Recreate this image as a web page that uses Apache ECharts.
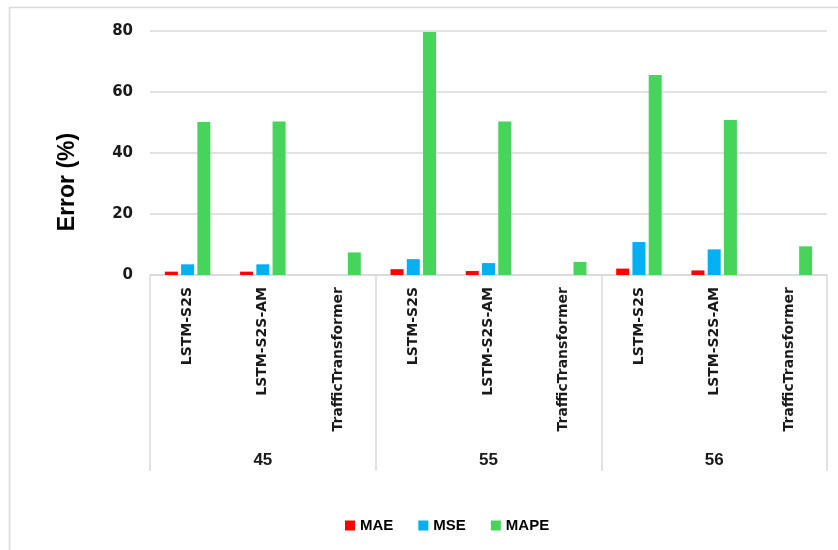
<!DOCTYPE html>
<html>
<head>
<meta charset="utf-8">
<script src="https://cdn.jsdelivr.net/npm/echarts@6/dist/echarts.min.js"></script>
<style>
  html, body { margin: 0; padding: 0; background: #fff; }
  #chart { width: 838px; height: 550px; }
</style>
</head>
<body>
<div id="chart"></div>
<script>
// 数据
var models = ['LSTM-S2S', 'LSTM-S2S-AM', 'TrafficTransformer',
              'LSTM-S2S', 'LSTM-S2S-AM', 'TrafficTransformer',
              'LSTM-S2S', 'LSTM-S2S-AM', 'TrafficTransformer'];
var datasets = ['45', '55', '56'];
var mae  = [1.1, 1.1, 0, 1.9, 1.3, 0, 2.1, 1.5, 0];
var mse  = [3.5, 3.5, 0, 5.2, 3.9, 0, 10.8, 8.4, 0];
var mape = [50.2, 50.3, 7.4, 79.7, 50.3, 4.3, 65.6, 50.8, 9.4];
var yTicks = [0, 20, 40, 60, 80];

var font = 'Liberation Sans';
var wide = 'DejaVu Sans';
var gridColor = '#d9d9d9';

function bar(name, data, color) {
    return {
        name: name,
        type: 'bar',
        data: data,
        barWidth: 13,
        barGap: '25%',
        itemStyle: { color: color }
    };
}

var chart = echarts.init(document.getElementById('chart'));
chart.setOption({
    animation: false,
    grid: { left: 150, right: 11, top: 31, bottom: 275 },
    graphic: [
        {
            type: 'rect',
            shape: { x: 9.5, y: 7.5, width: 840, height: 560 },
            style: { fill: 'none', stroke: gridColor, lineWidth: 1.5 }
        },
        {
            type: 'text',
            x: 68, y: 182,
            rotation: Math.PI / 2,
            style: {
                text: 'Error (%)',
                font: 'bold 23px "' + font + '"',
                fill: '#000',
                align: 'center',
                verticalAlign: 'middle'
            }
        }
    ],
    legend: {
        bottom: 12,
        left: 340,
        icon: 'rect',
        itemWidth: 10,
        itemHeight: 10,
        itemGap: 25,
        textStyle: { fontFamily: font, fontWeight: 'bold', fontSize: 15, color: '#000' },
        data: ['MAE', 'MSE', 'MAPE']
    },
    xAxis: [
        {
            type: 'category',
            data: models,
            axisLine: { lineStyle: { color: gridColor, width: 1.5 } },
            axisTick: { show: false },
            axisLabel: {
                interval: 0,
                rotate: 90,
                margin: 12,
                fontFamily: wide,
                fontWeight: 'bold',
                fontSize: 14,
                color: '#1a1a1a'
            }
        },
        {
            type: 'category',
            data: datasets,
            position: 'bottom',
            offset: 196,
            axisLine: { show: false },
            axisTick: {
                show: true,
                inside: true,
                length: 196,
                interval: 0,
                lineStyle: { color: gridColor, width: 1.5 }
            },
            axisLabel: {
                inside: true,
                margin: 2,
                fontFamily: font,
                fontWeight: 'bold',
                fontSize: 17,
                color: '#1a1a1a'
            }
        }
    ],
    yAxis: {
        type: 'value',
        min: yTicks[0],
        max: yTicks[yTicks.length - 1],
        interval: 20,
        axisLine: { show: false },
        axisTick: { show: false },
        splitLine: { lineStyle: { color: gridColor, width: 1.5 } },
        axisLabel: {
            margin: 17,
            fontFamily: wide,
            fontWeight: 'bold',
            fontSize: 15,
            color: '#1a1a1a'
        }
    },
    series: [
        bar('MAE', mae, '#ff0000'),
        bar('MSE', mse, '#00b0f0'),
        bar('MAPE', mape, '#47d45a')
    ]
});
</script>
</body>
</html>
